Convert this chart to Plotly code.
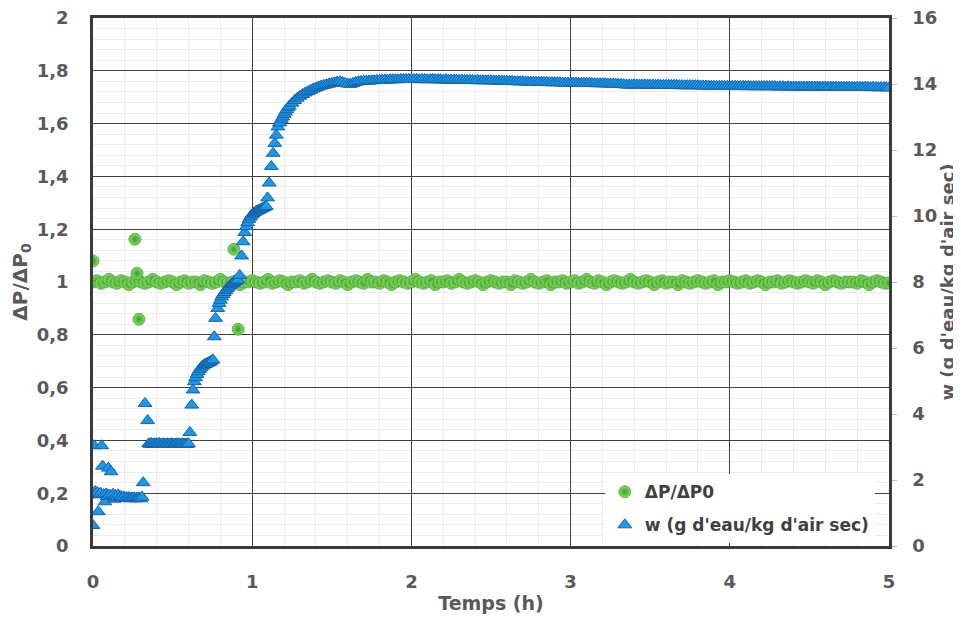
import plotly.graph_objects as go

# ---------------- data ----------------
# dP/dP0 (left axis), regular record every 1.5 min (minutes)
dp_base = [
    1.00, 1.005, 0.995, 1.00, 1.01, 1.00, 0.995, 1.005, 1.00, 0.99, 1.00, 1.005, 1.00, 0.995, 1.00, 1.01, 1.00, 0.995, 1.00, 1.005,
    1.00, 0.99, 1.00, 1.005, 0.995, 1.00, 1.00, 0.99, 1.005, 1.00, 0.995, 1.00, 1.01, 1.00, 0.995, 1.00, 1.005, 0.99, 1.00, 1.00,
    1.005, 1.00, 0.995, 1.00, 1.01, 0.995, 1.00, 1.005, 1.00, 0.99, 1.00, 1.00, 1.005, 0.995, 1.00, 1.01, 1.00, 0.995, 1.00, 1.005,
    1.00, 0.995, 1.005, 1.00, 0.99, 1.00, 1.005, 1.00, 0.995, 1.01, 1.00, 1.00, 0.995, 1.005, 1.00, 0.99, 1.00, 1.005, 1.00, 0.995,
    1.00, 1.01, 1.00, 0.995, 1.00, 1.005, 0.99, 1.00, 1.00, 1.005, 0.995, 1.00, 1.01, 1.00, 0.995, 1.00, 1.005, 1.00, 0.99, 1.00,
    1.005, 1.00, 0.995, 1.00, 1.00, 0.99, 1.005, 1.00, 0.995, 1.00, 1.01, 1.00, 0.995, 1.00, 1.005, 0.99, 1.00, 1.00, 1.005, 0.995,
    1.00, 1.005, 0.995, 1.00, 1.01, 1.00, 0.995, 1.005, 1.00, 0.99, 1.00, 1.005, 1.00, 0.995, 1.00, 1.01, 1.00, 0.995, 1.00, 1.005,
    1.00, 0.99, 1.00, 1.005, 0.995, 1.00, 1.00, 0.99, 1.005, 1.00, 0.995, 1.00, 1.005, 1.00, 0.995, 1.00, 1.005, 0.99, 1.00, 1.00,
    1.005, 1.00, 0.995, 1.00, 1.005, 0.995, 1.00, 1.005, 1.00, 0.99, 1.00, 1.00, 1.005, 0.995, 1.00, 1.005, 1.00, 0.995, 1.00, 1.005,
    1.00, 0.995, 1.005, 1.00, 0.99, 1.00, 1.005, 1.00, 0.995, 1.00, 1.00, 1.00, 0.995, 1.005, 1.00, 0.99, 1.00, 1.005, 1.00, 0.995,
    0.996,
]
dp_step_min = 1.5

# isolated dP/dP0 readings (minutes, value)
dp_out_t = [0.0, 15.8, 16.6, 17.3, 53.1, 54.7]
dp_out_v = [1.08, 1.162, 1.033, 0.859, 1.124, 0.821]

# w (right axis), irregular early readings (minutes)
w_early_t = [
    0, 0.4, 0.8, 1.2, 1.6, 2.0, 2.4, 2.8, 3.3, 3.6, 4.0, 4.5, 5.0, 5.4, 5.8, 6.2, 6.8, 7.2, 7.6, 8.0,
    8.5, 9.0, 9.5, 10.0, 10.5, 11.0, 11.5, 12.0, 12.5, 13.0, 13.5, 14.0, 14.5, 15.0, 15.5, 16.0, 16.5, 17.0, 17.5, 18.0,
    18.5, 18.9, 19.6, 20.6, 21.0,
    21.5, 22.0, 22.5, 23.0, 23.5, 24.0, 24.5, 25.0, 25.5, 26.0, 26.5, 27.0, 27.5, 28.0, 28.5, 29.0, 29.5, 30.0, 30.5, 31.0,
    31.5, 32.0, 32.5, 33.0, 33.5, 34.0, 34.5, 35.0, 35.5, 36.0,
    36.5, 37.2, 37.7, 38.2, 38.7, 39.2, 39.7, 40.2, 40.7, 41.2, 41.7, 42.2, 42.7, 43.2, 43.7, 44.2, 44.7, 45.2, 45.7, 46.2,
    47.0, 47.5, 48.0, 48.5, 49.0, 49.5, 50.0, 50.5, 51.0, 51.5, 52.0, 52.5, 53.0, 53.5, 54.0, 54.6, 55.3, 56.0, 56.6, 57.2,
    57.8, 58.3, 58.8, 59.3, 59.8, 60.3, 60.8, 61.3, 61.8, 62.3, 62.8, 63.3, 63.8, 64.3, 64.8, 65.3, 65.8, 66.4, 67.2, 67.9,
    68.5, 69.1, 69.7, 70.3, 71.0, 71.5, 72.0, 72.5, 73.0, 73.5, 74.0, 75.0, 76.0, 77.0, 78.0, 79.0, 80.0, 81.0, 82.0, 83.0,
    84.0, 85.0, 86.0, 87.0, 88.0, 89.0, 90.0, 91.0, 92.0, 93.0, 94.0, 95.0, 96.0, 97.0, 98.0, 99.0,
]
w_early_v = [
    0.62, 3.04, 1.65, 1.58, 1.62, 1.04, 1.55, 1.60, 3.04, 2.42, 1.56, 1.34, 1.58, 1.50, 2.36, 1.55, 2.25, 1.52, 1.57, 1.42,
    1.53, 1.47, 1.55, 1.46, 1.50, 1.45, 1.49, 1.44, 1.47, 1.44, 1.47, 1.43, 1.46, 1.44, 1.46, 1.43, 1.45, 1.44, 1.46, 1.43,
    1.48, 1.92, 4.32, 3.80, 3.10,
    3.08, 3.11, 3.09, 3.10, 3.08, 3.10, 3.09, 3.11, 3.09, 3.08, 3.10, 3.09, 3.08, 3.10, 3.09, 3.08, 3.10, 3.09, 3.08, 3.09,
    3.10, 3.08, 3.09, 3.08, 3.10, 3.09, 3.08, 3.09, 3.08, 3.10,
    3.44, 4.27, 4.73, 4.98, 5.10, 5.20, 5.28, 5.35, 5.40, 5.45, 5.48, 5.50, 5.52, 5.54, 5.56, 5.58, 5.61, 5.64, 6.34, 6.90,
    7.20, 7.35, 7.45, 7.55, 7.62, 7.68, 7.74, 7.79, 7.84, 7.88, 7.92, 7.95, 7.98, 8.01, 8.03, 8.06, 8.20, 8.79, 9.22, 9.50,
    9.68, 9.80, 9.90, 9.97, 10.03, 10.07, 10.10, 10.13, 10.15, 10.17, 10.19, 10.21, 10.23, 10.25, 10.27, 10.29, 10.55, 11.00, 11.50, 11.90,
    12.20, 12.45, 12.70, 12.82, 12.93, 13.00, 13.08, 13.15, 13.22, 13.28, 13.33, 13.42, 13.50, 13.57, 13.63, 13.68, 13.73, 13.77, 13.81, 13.85,
    13.88, 13.91, 13.94, 13.96, 13.98, 14.00, 14.02, 14.04, 14.06, 14.07, 14.05, 14.02, 14.00, 13.99, 14.02, 14.05,
]

# w, regular record every minute from 100 min to 300 min
w_late_start_min = 100
w_late = [
    14.07, 14.08, 14.08, 14.09, 14.09, 14.10, 14.10, 14.11, 14.11, 14.12,
    14.12, 14.12, 14.13, 14.13, 14.13, 14.13, 14.14, 14.14, 14.14, 14.14,
    14.14, 14.14, 14.14, 14.13, 14.14, 14.14, 14.13, 14.13, 14.14, 14.13,
    14.13, 14.13, 14.12, 14.13, 14.12, 14.12, 14.12, 14.12, 14.11, 14.12,
    14.11, 14.11, 14.11, 14.11, 14.10, 14.11, 14.10, 14.10, 14.10, 14.10,
    14.10, 14.09, 14.09, 14.09, 14.09, 14.08, 14.08, 14.08, 14.08, 14.07,
    14.07, 14.07, 14.07, 14.06, 14.06, 14.06, 14.06, 14.05, 14.05, 14.05,
    14.05, 14.05, 14.04, 14.04, 14.04, 14.04, 14.04, 14.03, 14.03, 14.03,
    14.03, 14.03, 14.03, 14.02, 14.02, 14.02, 14.02, 14.02, 14.02, 14.01,
    14.01, 14.01, 14.01, 14.01, 14.00, 14.00, 14.00, 14.00, 13.99, 13.99,
    13.98, 13.97, 13.97, 13.97, 13.98, 13.97, 13.97, 13.97, 13.97, 13.97,
    13.97, 13.97, 13.96, 13.97, 13.96, 13.96, 13.96, 13.96, 13.96, 13.96,
    13.96, 13.95, 13.95, 13.95, 13.95, 13.95, 13.95, 13.95, 13.95, 13.94,
    13.94, 13.94, 13.94, 13.93, 13.93, 13.93, 13.93, 13.93, 13.93, 13.93,
    13.93, 13.93, 13.93, 13.92, 13.93, 13.93, 13.92, 13.93, 13.92, 13.92,
    13.92, 13.92, 13.92, 13.92, 13.92, 13.92, 13.92, 13.92, 13.91, 13.92,
    13.92, 13.91, 13.92, 13.91, 13.91, 13.91, 13.91, 13.91, 13.91, 13.91,
    13.91, 13.91, 13.91, 13.91, 13.90, 13.91, 13.91, 13.90, 13.91, 13.90,
    13.91, 13.90, 13.90, 13.90, 13.90, 13.90, 13.90, 13.90, 13.90, 13.90,
    13.90, 13.90, 13.90, 13.89, 13.90, 13.89, 13.89, 13.89, 13.89, 13.89,
    13.88,
]

x_ticks = [0, 1, 2, 3, 4, 5]
name_dp = "ΔP/ΔP0"
name_w = "w (g d'eau/kg d'air sec)"

assert len(w_early_t) == len(w_early_v)
assert len(dp_out_t) == len(dp_out_v)

# ---------------- assemble (minutes -> hours) ----------------
dp_t_h = [i * dp_step_min / 60 for i in range(len(dp_base))] + [m / 60 for m in dp_out_t]
dp_v = dp_base + dp_out_v
w_t_h = [m / 60 for m in w_early_t] + [(w_late_start_min + i) / 60 for i in range(len(w_late))]
w_v = w_early_v + w_late

FONT = "DejaVu Sans"
GREY = "#595959"

fig = go.Figure()
fig.add_trace(go.Scatter(
    x=dp_t_h, y=dp_v, mode="markers", name=name_dp, legendgroup="a",
    marker=dict(symbol="circle", size=12, color="#9ad45c",
                gradient=dict(type="radial", color="#23a53a"),
                line=dict(color="#3aa83f", width=0.8)),
    yaxis="y",
))
fig.add_trace(go.Scatter(
    x=w_t_h, y=w_v, mode="markers", name=name_w, legendgroup="b",
    marker=dict(symbol="triangle-up", size=12, color="#1f97e4",
                line=dict(color="#1463ad", width=1)),
    yaxis="y2",
))

axis_line = dict(showline=True, linecolor="#3a3a3a", linewidth=2.5, automargin=False,
                 ticklabeloverflow="allow")
tickfont = dict(family=FONT, size=18, color=GREY, weight="bold")

# the page body adds an 8 px offset, so the figure is 8 px smaller on each side
fig.update_layout(
    width=953, height=617,
    margin=dict(l=85, r=72, t=10, b=79, autoexpand=False),
    paper_bgcolor="white", plot_bgcolor="white",
    separators=", ",
    font=dict(family=FONT, color=GREY),
    showlegend=True,
    legend=dict(
        x=0.643, y=0.136, xanchor="left", yanchor="top",
        bgcolor="white", borderwidth=0,
        font=dict(family=FONT, size=17, color="#404040", weight="bold"),
        traceorder="grouped", tracegroupgap=8,
    ),
    xaxis=dict(
        range=[0, 5], tickvals=x_ticks, showgrid=True, gridcolor="#404040", gridwidth=1,
        minor=dict(dtick=0.2, showgrid=True, gridcolor="#ececec", gridwidth=1),
        zeroline=False, mirror=True, ticks="", ticklabelstandoff=18,
        tickfont=tickfont,
        title=dict(text="Temps (h)", font=dict(family=FONT, size=19, color=GREY, weight="bold"), standoff=6),
        **axis_line,
    ),
    yaxis=dict(
        range=[0, 2], dtick=0.2, showgrid=True, gridcolor="#404040", gridwidth=1,
        minor=dict(dtick=0.04, showgrid=True, gridcolor="#ececec", gridwidth=1),
        zeroline=False, mirror=True, ticks="", ticklabelstandoff=18,
        tickfont=tickfont,
        title=dict(text="ΔP/ΔP<sub>0</sub>", font=dict(family=FONT, size=20, color=GREY, weight="bold"), standoff=6),
        **axis_line,
    ),
    yaxis2=dict(
        range=[0, 16], dtick=2, overlaying="y", side="right", showgrid=False,
        zeroline=False, ticks="outside", ticklen=5, tickcolor="#bfbfbf",
        ticklabelstandoff=12, tickfont=tickfont,
        title=dict(text=name_w, font=dict(family=FONT, size=18, color=GREY, weight="bold"), standoff=4),
        **axis_line,
    ),
)

fig.write_html("out.html")
